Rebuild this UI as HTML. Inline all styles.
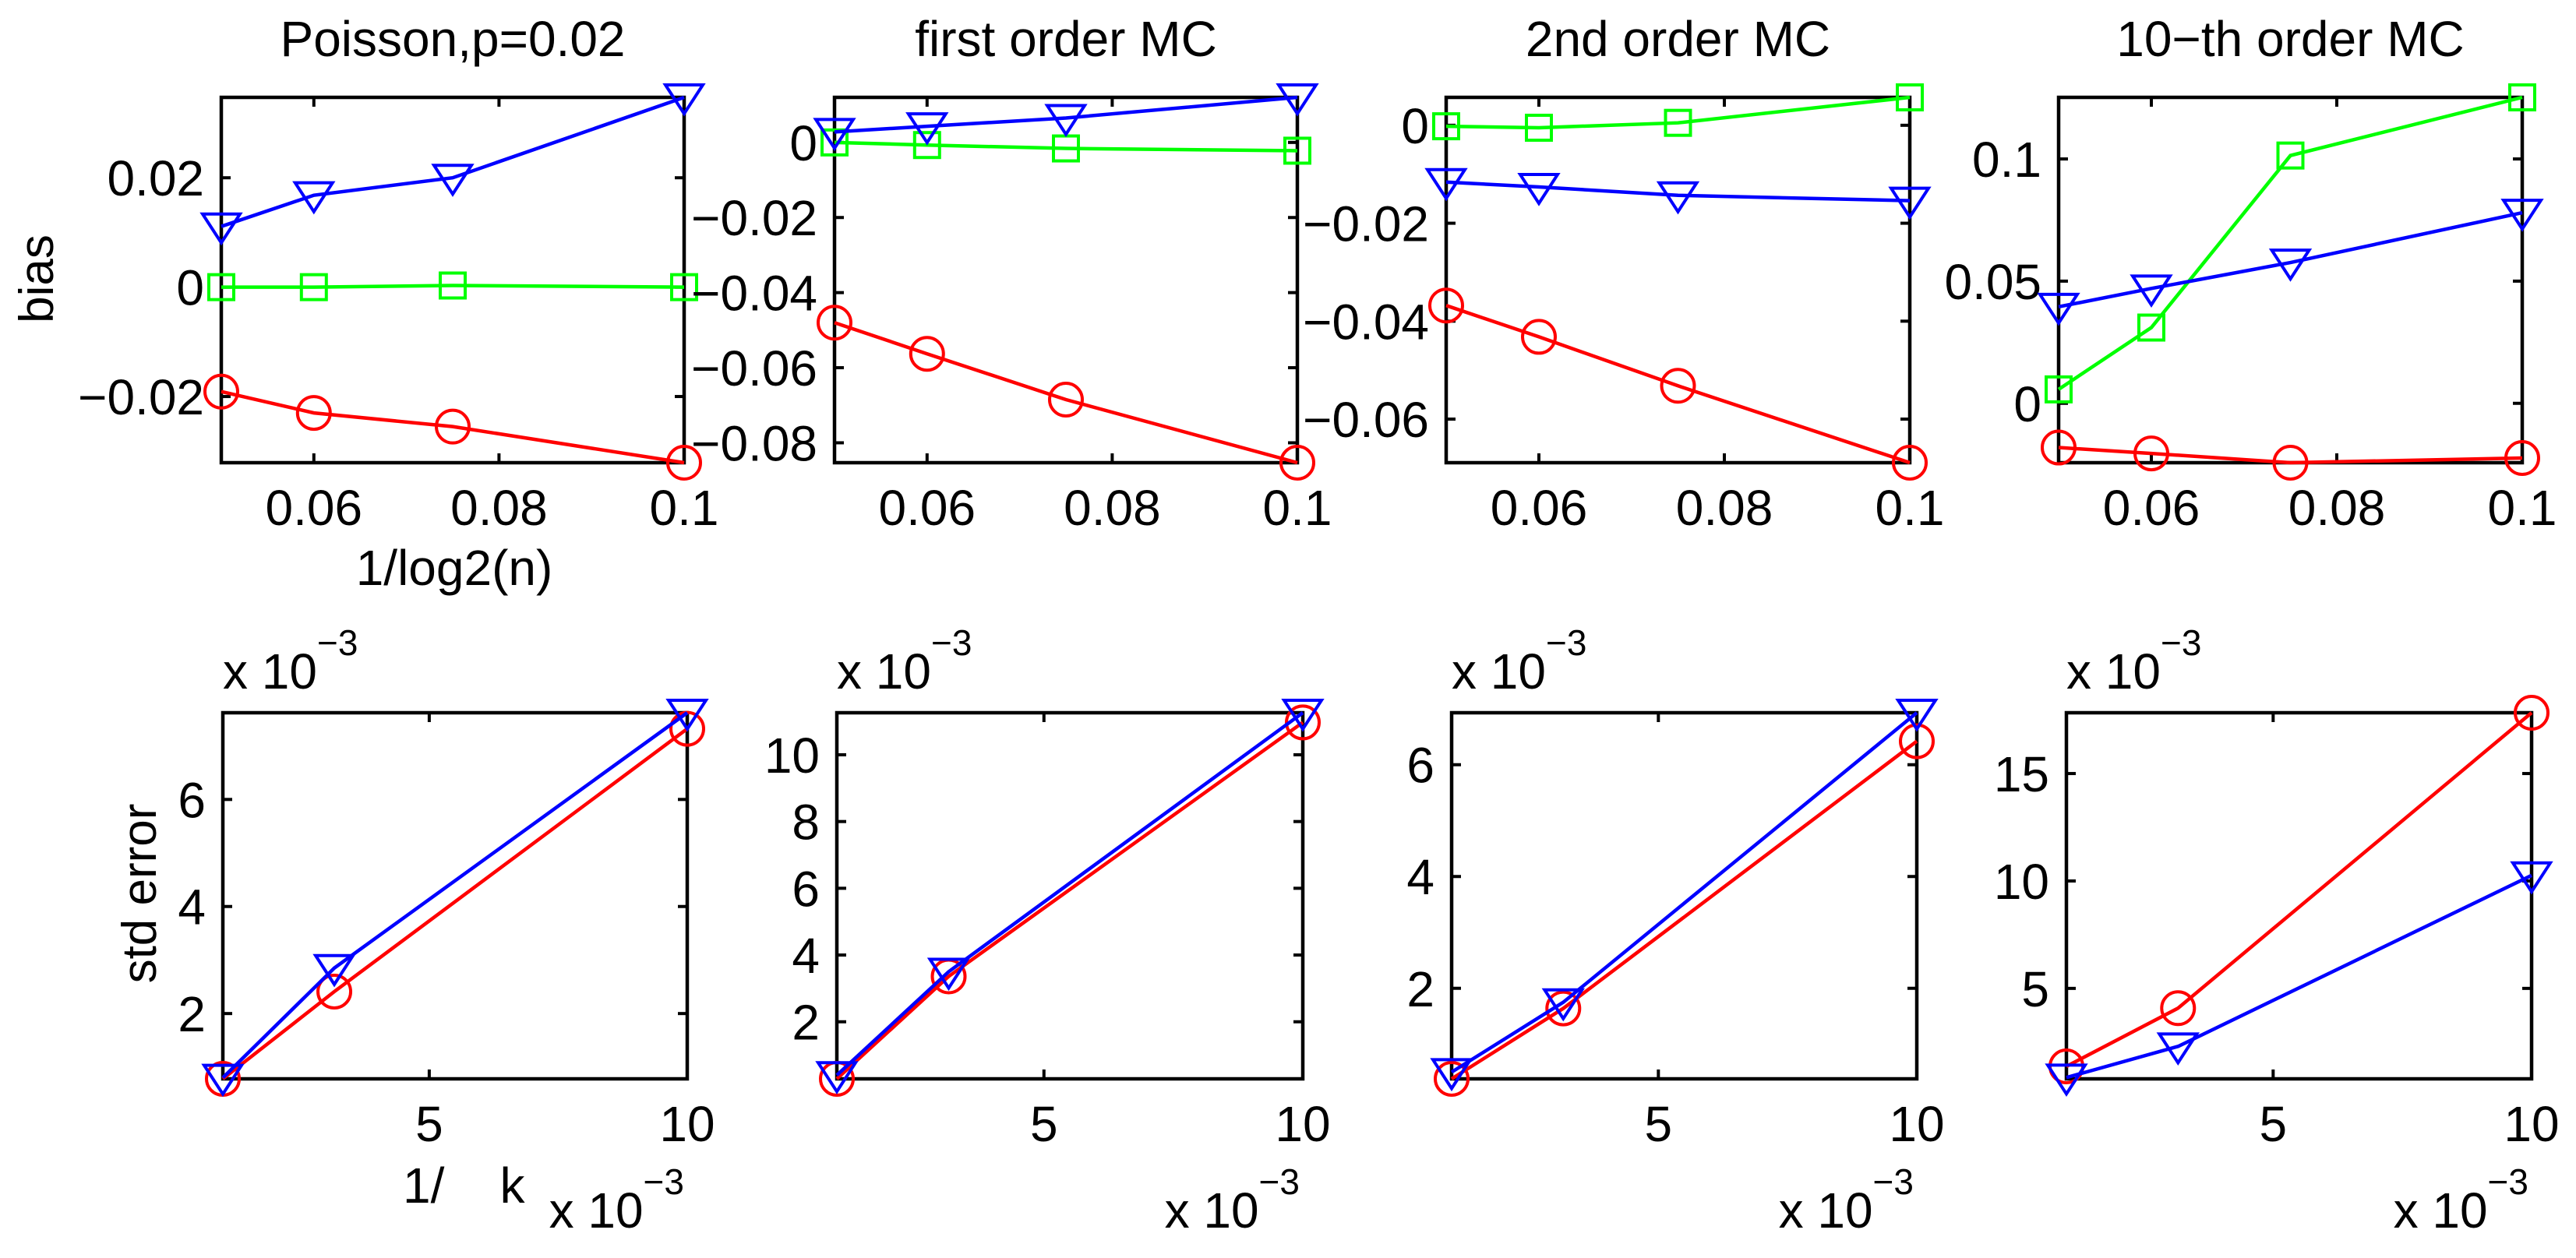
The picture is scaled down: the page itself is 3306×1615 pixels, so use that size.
<!DOCTYPE html>
<html><head><meta charset="utf-8">
<style>
html,body{margin:0;padding:0;background:#fff;}
svg{display:block;}
text{font-family:"Liberation Sans",Arial,sans-serif;fill:#000;}
</style></head>
<body>
<svg id="fig" width="3306" height="1615" viewBox="0 0 3306 1615" xmlns="http://www.w3.org/2000/svg">
<rect width="3306" height="1615" fill="#fff"/>
<text x="0" y="0" font-size="62" text-anchor="middle" transform="translate(68,358) rotate(-90)">bias</text>
<text x="0" y="0" font-size="62" text-anchor="middle" transform="translate(200,1147) rotate(-90)">std error</text>
<text x="583" y="751" font-size="64" text-anchor="middle">1/log2(n)</text>
<text x="517" y="1544" font-size="64" xml:space="preserve">1/    k</text>
</svg>
<script>
// x values
const biasX = [0.05, 0.06, 0.075, 0.1];
const seX = [1, 3.16, 10];
const titles = ["Poisson,p=0.02", "first order MC", "2nd order MC", "10\u2212th order MC"];
// bias series (red circle, green square, blue triangle)
const biasRed0 = [-0.0191, -0.023, -0.0255, -0.0321];
const biasGreen0 = [0, 0, 0.0003, 0];
const biasBlue0 = [0.0111, 0.0168, 0.020, 0.0347];
const biasRed1 = [-0.048, -0.0563, -0.0685, -0.0853];
const biasGreen1 = [0, -0.0007, -0.0016, -0.0022];
const biasBlue1 = [0.0028, 0.0043, 0.0065, 0.012];
const biasRed2 = [-0.0368, -0.0432, -0.0532, -0.0689];
const biasGreen2 = [-0.0002, -0.0005, 0.0005, 0.0057];
const biasBlue2 = [-0.0116, -0.0126, -0.0143, -0.0154];
const biasRed3 = [-0.0181, -0.0205, -0.0243, -0.0224];
const biasGreen3 = [0.0057, 0.031, 0.1014, 0.1252];
const biasBlue3 = [0.0395, 0.047, 0.0576, 0.078];
// std error series (x 1e-3)
const seRed0 = [0.78, 2.41, 7.32];
const seBlue0 = [0.8, 2.85, 7.62];
const seRed1 = [0.29, 3.36, 10.97];
const seBlue1 = [0.4, 3.5, 11.26];
const seRed2 = [0.38, 1.64, 6.42];
const seBlue2 = [0.5, 1.75, 6.93];
const seRed3 = [1.37, 4.08, 17.83];
const seBlue3 = [0.85, 2.3, 10.26];
// ticks
const biasXTicks = [0.06, 0.08, 0.1];
const biasXTickLabels = ["0.06", "0.08", "0.1"];
const biasYTicks = [[-0.02, 0, 0.02], [-0.08, -0.06, -0.04, -0.02, 0], [-0.06, -0.04, -0.02, 0], [0, 0.05, 0.1]];
const biasYTickLabels = [["\u22120.02", "0", "0.02"], ["\u22120.08", "\u22120.06", "\u22120.04", "\u22120.02", "0"], ["\u22120.06", "\u22120.04", "\u22120.02", "0"], ["0", "0.05", "0.1"]];
const biasYLim = [[-0.0321, 0.0347], [-0.0853, 0.012], [-0.0689, 0.0057], [-0.0243, 0.1252]];
const seXTicks = [5, 10];
const seXTickLabels = ["5", "10"];
const seYTicks = [[2, 4, 6], [2, 4, 6, 8, 10], [2, 4, 6], [5, 10, 15]];
const seYTickLabels = [["2", "4", "6"], ["2", "4", "6", "8", "10"], ["2", "4", "6"], ["5", "10", "15"]];
const seYLim = [[0.78, 7.62], [0.29, 11.26], [0.38, 6.93], [0.79, 17.83]];

const biasSeries = [[biasRed0, biasGreen0, biasBlue0], [biasRed1, biasGreen1, biasBlue1], [biasRed2, biasGreen2, biasBlue2], [biasRed3, biasGreen3, biasBlue3]];
const seSeries = [[seRed0, seBlue0], [seRed1, seBlue1], [seRed2, seBlue2], [seRed3, seBlue3]];

const topBoxes = [[284, 125, 878, 594], [1071, 125, 1665, 594], [1856, 125, 2451, 594], [2642, 125, 3237, 594]];
const botBoxes = [[286, 915, 882, 1385], [1074, 915, 1672, 1385], [1863, 915, 2460, 1385], [2652, 915, 3249, 1385]];

const NS = "http://www.w3.org/2000/svg";
const svg = document.getElementById("fig");
function mk(tag, attrs, parent) {
  const e = document.createElementNS(NS, tag);
  for (const k in attrs) e.setAttribute(k, attrs[k]);
  (parent || svg).appendChild(e);
  return e;
}
function scale(d0, d1, r0, r1) { return v => r0 + (v - d0) / (d1 - d0) * (r1 - r0); }

function marker(g, type, x, y, color) {
  let m;
  if (type === "o") m = mk("ellipse", {cx: x, cy: y, rx: 21, ry: 21, fill: "none", stroke: color, "stroke-width": 4}, g);
  else if (type === "s") m = mk("rect", {x: x - 16, y: y - 16, width: 32, height: 32, fill: "none", stroke: color, "stroke-width": 4}, g);
  else m = mk("polygon", {points: (x - 24) + "," + (y - 16) + " " + (x + 24) + "," + (y - 16) + " " + x + "," + (y + 21), fill: "none", stroke: color, "stroke-width": 4}, g);
  
  
}

function drawPanel(idx, box, xlim, ylim, xs, series, colors, markers, xticks, xtl, yticks, ytl, isBottom) {
  const [x0, y0, x1, y1] = box;
  const sx = scale(xlim[0], xlim[1], x0, x1);
  const sy = scale(ylim[0], ylim[1], y1, y0);
  const g = mk("g", {});
  
  
  xticks.forEach((t, i) => {
    const x = sx(t);
    mk("line", {x1: x, y1: y1, x2: x, y2: y1 - 12, stroke: "#000", "stroke-width": 4}, g);
    mk("line", {x1: x, y1: y0, x2: x, y2: y0 + 12, stroke: "#000", "stroke-width": 4}, g);
    const tl = mk("text", {x: x, y: y1 + 80, "font-size": 64, "text-anchor": "middle"}, g);
    tl.textContent = xtl[i];
    
    
  });
  yticks.forEach((t, i) => {
    const y = sy(t);
    mk("line", {x1: x0, y1: y, x2: x0 + 12, y2: y, stroke: "#000", "stroke-width": 4}, g);
    mk("line", {x1: x1, y1: y, x2: x1 - 12, y2: y, stroke: "#000", "stroke-width": 4}, g);
    const tl = mk("text", {x: x0 - 22, y: y + 23, "font-size": 64, "text-anchor": "end"}, g);
    tl.textContent = ytl[i];
    
    
  });
  const frame = mk("rect", {x: x0, y: y0, width: x1 - x0, height: y1 - y0, fill: "none", stroke: "#000", "stroke-width": 4.5}, g);
  
  
  series.forEach((ys, si) => {
    const pts = ys.map((v, i) => sx(xs[i]) + "," + sy(v)).join(" ");
    const pl = mk("polyline", {points: pts, fill: "none", stroke: colors[si], "stroke-width": 4.5}, g);
    
    
    ys.forEach((v, i) => marker(g, markers[si], sx(xs[i]), sy(v), colors[si]));
  });
  if (isBottom) {
    const e1 = mk("text", {x: x0, y: y0 - 31, "font-size": 64}, g);
    e1.innerHTML = 'x 10<tspan dy="-43" font-size="46">\u22123</tspan>';
    
    
    const e2 = mk("text", {x: x1 - 4, y: y1 + 191, "font-size": 64, "text-anchor": "end"}, g);
    e2.innerHTML = 'x 10<tspan dy="-43" font-size="46">\u22123</tspan>';
    
    
  } else {
    const t = mk("text", {x: (x0 + x1) / 2, y: 72, "font-size": 64, "text-anchor": "middle"}, g);
    t.textContent = titles[idx];
    
    
  }
}

for (let i = 0; i < 4; i++) {
  drawPanel(i, topBoxes[i], [0.05, 0.1], biasYLim[i], biasX, biasSeries[i], ["#ff0000", "#00ff00", "#0000ff"], ["o", "s", "v"], biasXTicks, biasXTickLabels, biasYTicks[i], biasYTickLabels[i], false);
  drawPanel(i, botBoxes[i], [1, 10], seYLim[i], seX, seSeries[i], ["#ff0000", "#0000ff"], ["o", "v"], seXTicks, seXTickLabels, seYTicks[i], seYTickLabels[i], true);
}
</script>
</body></html>
